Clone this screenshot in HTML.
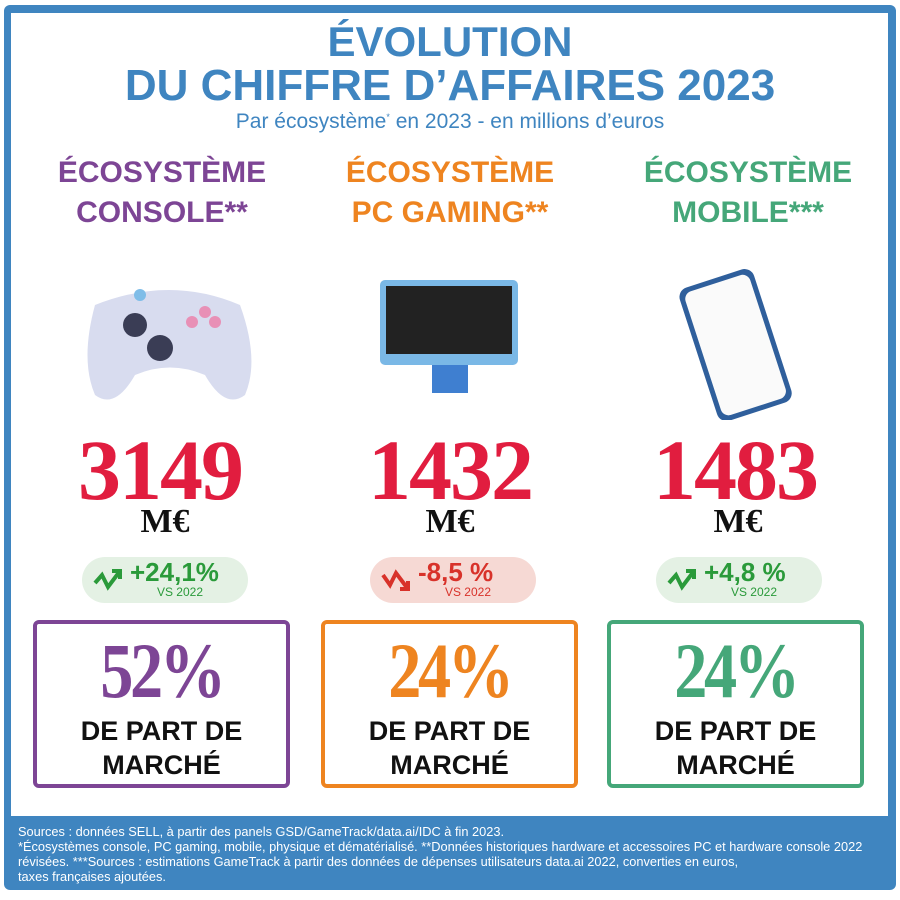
<!DOCTYPE html>
<html><head><meta charset="utf-8"><style>
*{margin:0;padding:0;box-sizing:border-box}
body{width:900px;height:900px;background:#fff;position:relative;overflow:hidden;font-family:"Liberation Sans",sans-serif}
.frame{position:absolute;left:4px;top:5px;width:892px;height:885px;background:#3f85c0;border-radius:6px}
.inner{position:absolute;left:11px;top:13px;width:877px;height:803px;background:#fff}
.t{position:absolute;left:0;width:900px;text-align:center;color:#3f85c0;font-weight:bold;white-space:nowrap}
.h{position:absolute;width:300px;text-align:center;font-weight:bold;font-size:30px;line-height:40px}
.num{position:absolute;width:300px;text-align:center;font-family:"Liberation Serif",serif;font-weight:bold;color:#e11d3f;font-size:86px;letter-spacing:-2px}
.me{position:absolute;width:300px;text-align:center;font-family:"Liberation Serif",serif;font-weight:bold;font-size:34px;color:#111}
.badge{position:absolute;top:557px;height:46px;border-radius:23px;width:166px}
.badge .v{position:absolute;left:48px;top:0px;font-weight:bold;font-size:26px;line-height:30px}
.badge .s{position:absolute;left:0;width:100%;top:29px;text-align:center;font-size:12px;line-height:13px;padding-left:30px}
.box{position:absolute;top:620px;height:168px;width:257px;border:4px solid;border-radius:6px;text-align:center}
.box .p{font-family:"Liberation Serif",serif;font-weight:bold;font-size:78px;margin-top:6px;line-height:82px;letter-spacing:-4px;transform:scaleX(.85)}
.box .d{font-weight:bold;font-size:27px;line-height:34px;color:#111;margin-top:2px}
.foot{position:absolute;left:18px;top:824px;color:#fff;font-size:12.8px;line-height:15px;width:880px;white-space:nowrap}
</style></head><body>
<div class="frame"></div><div class="inner"></div>
<div class="t" style="top:18px;font-size:42px">ÉVOLUTION</div>
<div class="t" style="top:61px;font-size:44px">DU CHIFFRE D’AFFAIRES 2023</div>
<div class="t" style="top:110px;font-size:21px;font-weight:normal">Par écosystème<sup style="font-size:9px">*</sup> en 2023 - en millions d’euros</div>
<div class="h" style="left:12px;top:153px;color:#7d4595">ÉCOSYSTÈME<br>CONSOLE**</div>
<div class="h" style="left:300px;top:153px;color:#ee8420">ÉCOSYSTÈME<br>PC GAMING**</div>
<div class="h" style="left:598px;top:153px;color:#45a779">ÉCOSYSTÈME<br>MOBILE***</div>
<svg style="position:absolute;left:0;top:250px" width="900" height="170">
<path d="M95 55 Q170 25 240 55 Q260 110 245 145 Q225 160 205 125 Q170 110 135 125 Q115 160 95 145 Q80 110 95 55Z" fill="#d8dcef"/>
<circle cx="135" cy="75" r="12" fill="#3a3d55"/><circle cx="160" cy="98" r="13" fill="#3a3d55"/>
<circle cx="205" cy="62" r="6" fill="#e890b6"/><circle cx="192" cy="72" r="6" fill="#e890b6"/><circle cx="215" cy="72" r="6" fill="#e890b6"/><circle cx="140" cy="45" r="6" fill="#7fbde8"/>
<rect x="380" y="30" width="138" height="85" rx="5" fill="#7ab8e6"/><rect x="386" y="36" width="126" height="68" fill="#222"/>
<rect x="432" y="115" width="36" height="28" fill="#3f7fd0"/>
<g transform="rotate(-18 735 90)"><rect x="695" y="25" width="78" height="140" rx="10" fill="#2f5f9c"/><rect x="700" y="30" width="68" height="130" rx="8" fill="#fafafa"/></g>
</svg>
<div class="num" style="left:10px;top:420px">3149</div>
<div class="num" style="left:300px;top:420px">1432</div>
<div class="num" style="left:585px;top:420px">1483</div>
<div class="me" style="left:15px;top:503px">M€</div>
<div class="me" style="left:300px;top:503px">M€</div>
<div class="me" style="left:588px;top:503px">M€</div>
<div class="badge" style="left:82px;background:#e4f1e4;color:#2a9a3a"><svg style="position:absolute;left:10px;top:8px" width="35" height="30"><path d="M3 18 L10 10 L16 22 L28 6 M20 6 L28 6 L28 14" stroke="#2a9a3a" stroke-width="4" fill="none"/></svg><span class="v">+24,1%</span><div class="s">VS 2022</div></div>
<div class="badge" style="left:370px;background:#f6d9d4;color:#d8322a"><svg style="position:absolute;left:10px;top:8px" width="35" height="30"><path d="M3 10 L10 20 L16 8 L28 24 M20 24 L28 24 L28 16" stroke="#d8322a" stroke-width="4" fill="none"/></svg><span class="v">-8,5 %</span><div class="s">VS 2022</div></div>
<div class="badge" style="left:656px;background:#e4f1e4;color:#2a9a3a"><svg style="position:absolute;left:10px;top:8px" width="35" height="30"><path d="M3 18 L10 10 L16 22 L28 6 M20 6 L28 6 L28 14" stroke="#2a9a3a" stroke-width="4" fill="none"/></svg><span class="v">+4,8 %</span><div class="s">VS 2022</div></div>
<div class="box" style="left:33px;border-color:#7d4595"><div class="p" style="color:#7d4595">52%</div><div class="d">DE PART DE<br>MARCHÉ</div></div>
<div class="box" style="left:321px;border-color:#ee8420"><div class="p" style="color:#ee8420">24%</div><div class="d">DE PART DE<br>MARCHÉ</div></div>
<div class="box" style="left:607px;border-color:#45a779"><div class="p" style="color:#45a779">24%</div><div class="d">DE PART DE<br>MARCHÉ</div></div>
<div class="foot">Sources : données SELL, à partir des panels GSD/GameTrack/data.ai/IDC à fin 2023.<br>*Écosystèmes console, PC gaming, mobile, physique et dématérialisé. **Données historiques hardware et accessoires PC et hardware console 2022<br>révisées. ***Sources : estimations GameTrack à partir des données de dépenses utilisateurs data.ai 2022, converties en euros,<br>taxes françaises ajoutées.</div>
</body></html>
